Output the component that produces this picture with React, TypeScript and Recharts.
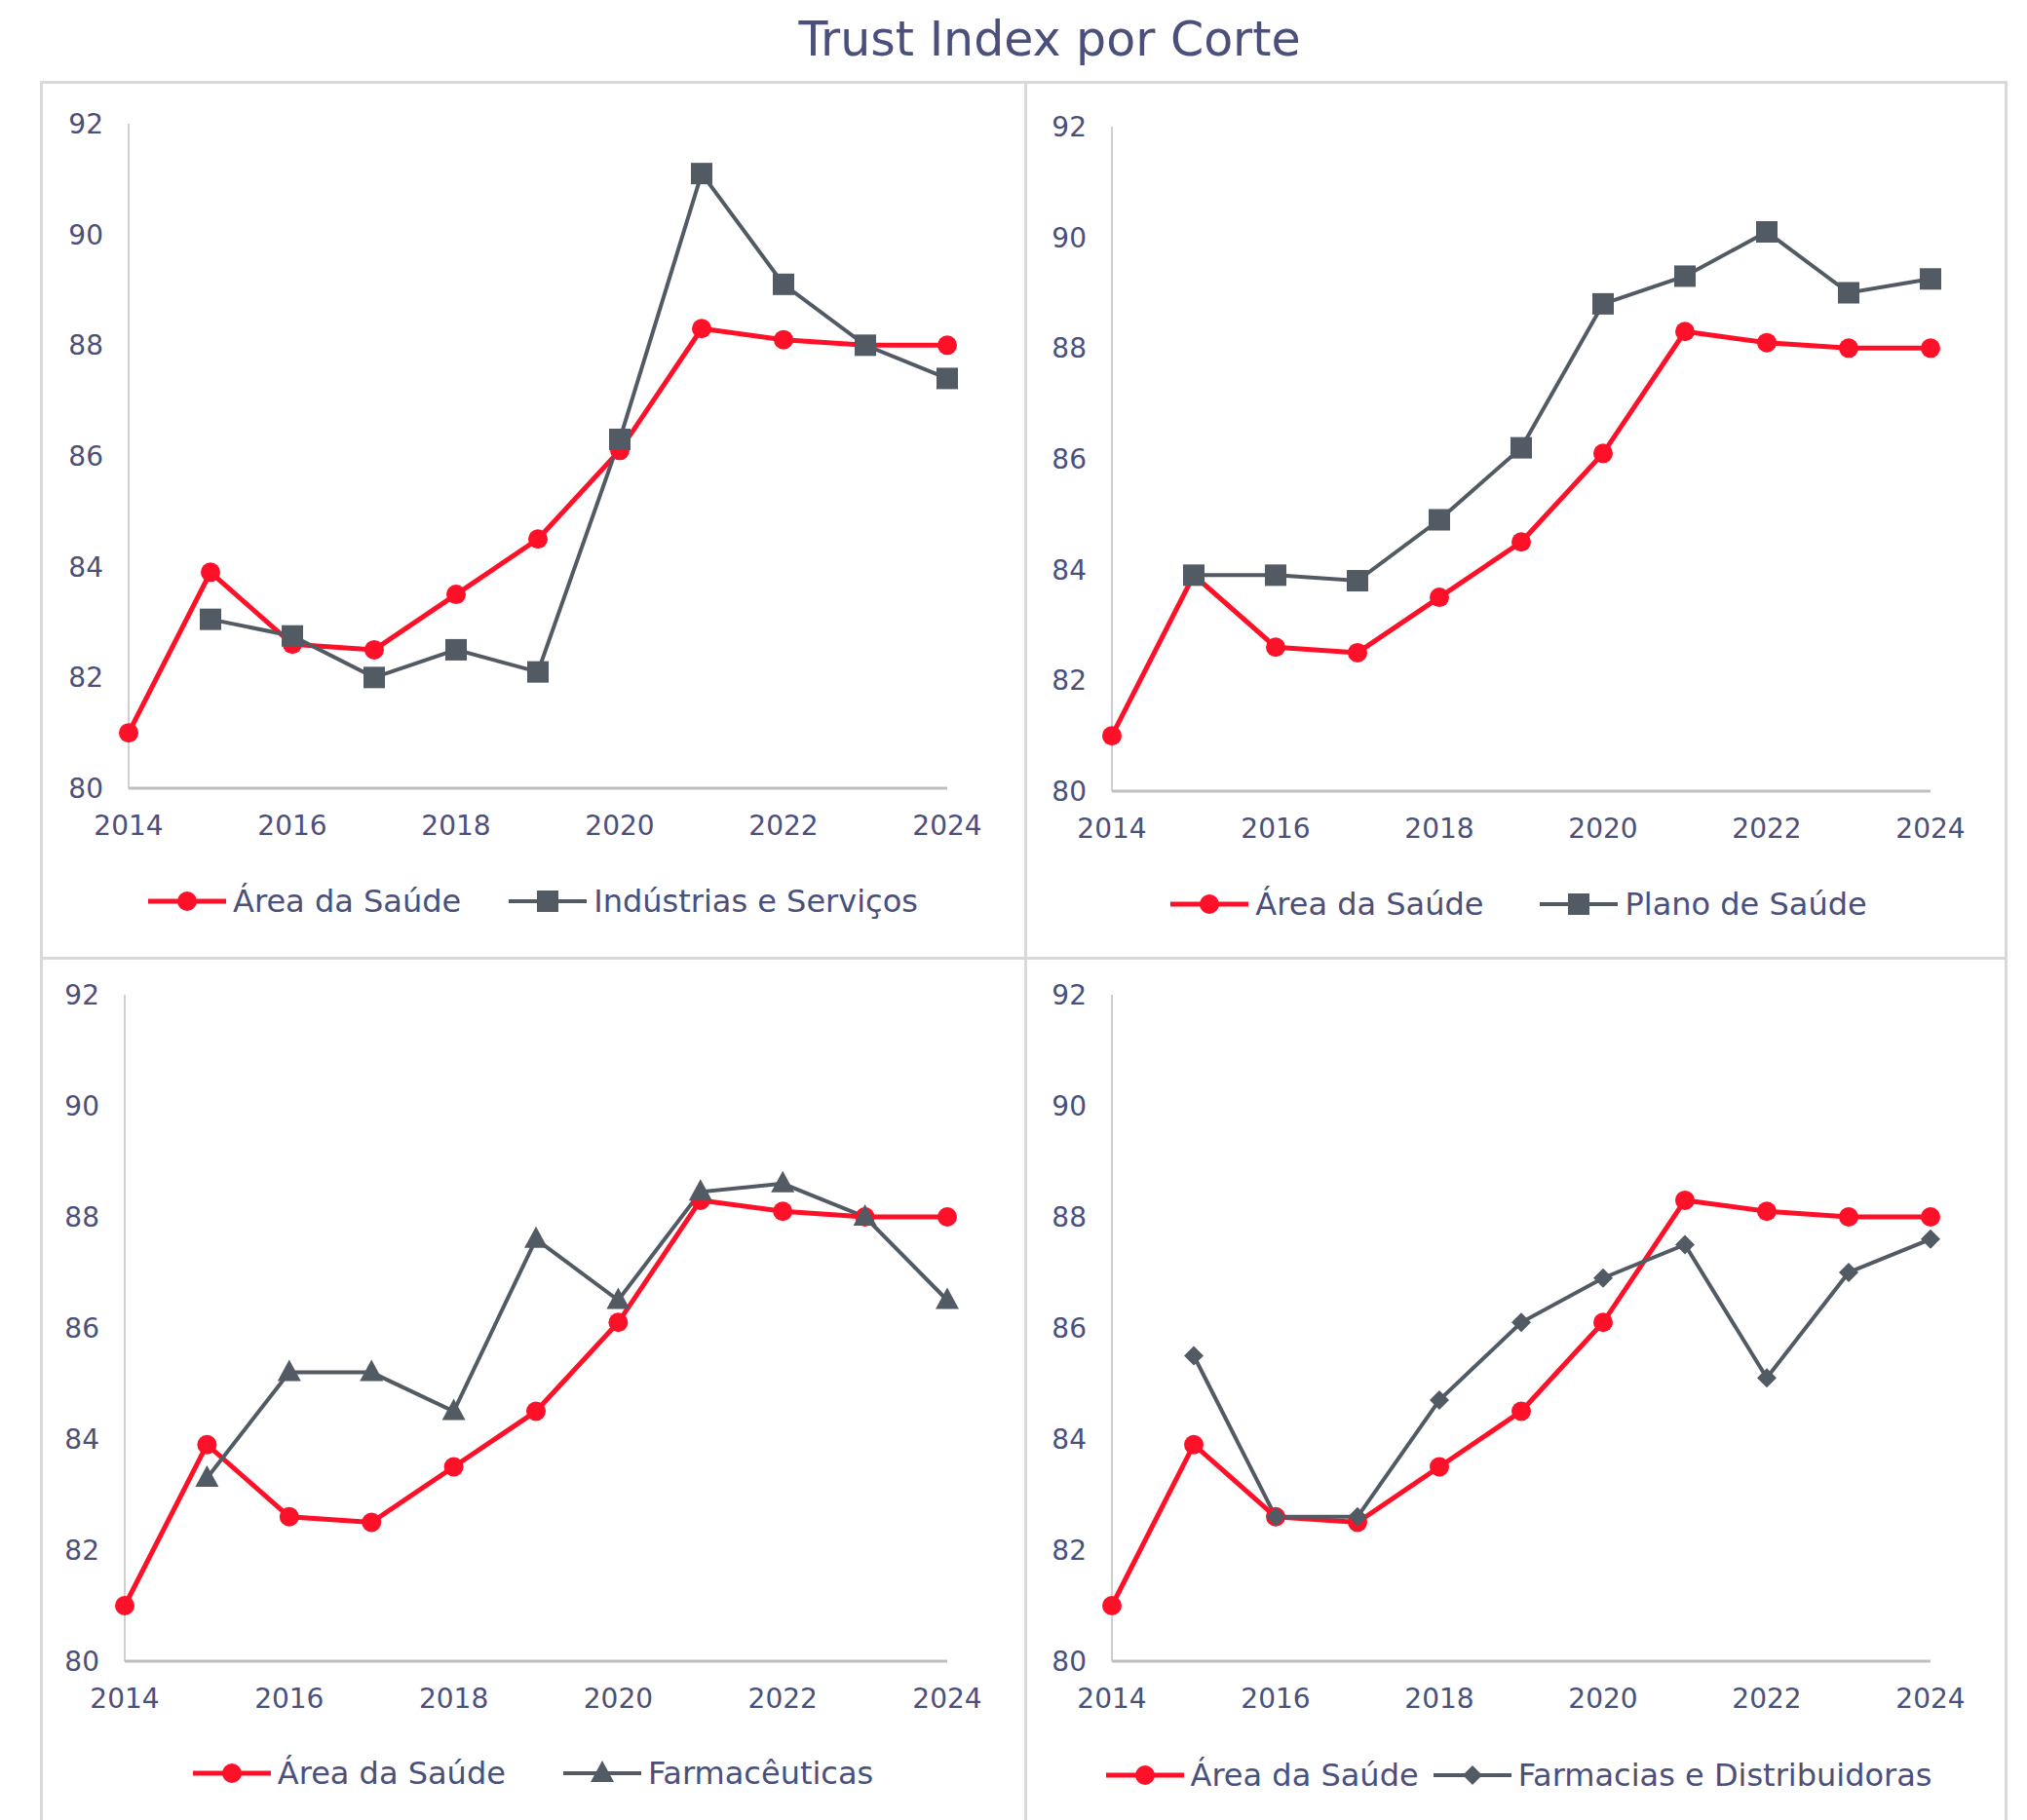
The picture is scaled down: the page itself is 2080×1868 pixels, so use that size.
import { LineChart, Line, XAxis, YAxis, Legend } from 'recharts';

const YEARS = [2014, 2015, 2016, 2017, 2018, 2019, 2020, 2021, 2022, 2023, 2024];
const AREA_SAUDE = [81.0, 83.9, 82.6, 82.5, 83.5, 84.5, 86.1, 88.3, 88.1, 88.0, 88.0];
const INDUSTRIAS_SERVICOS = [null, 83.05, 82.75, 82.0, 82.5, 82.1, 86.3, 91.1, 89.1, 88.0, 87.4];
const PLANO_SAUDE = [null, 83.9, 83.9, 83.8, 84.9, 86.2, 88.8, 89.3, 90.1, 89.0, 89.25];
const FARMACEUTICAS = [null, 83.3, 85.2, 85.2, 84.5, 87.6, 86.5, 88.45, 88.6, 88.0, 86.5];
const FARMACIAS_DISTRIB = [null, 85.5, 82.6, 82.6, 84.7, 86.1, 86.9, 87.5, 85.1, 87.0, 87.6];

const X_TICKS = [2014, 2016, 2018, 2020, 2022, 2024];
const Y_TICKS = [80, 82, 84, 86, 88, 90, 92];

const RED = '#ff1029';
const GRAY = '#525a63';
const TEXT = '#4a5079';
const AXIS = '#bfbfbf';
const BORDER = '#d9d9d9';
const FONT = '"DejaVu Sans", sans-serif';

type Marker = 'circle' | 'square' | 'triangle' | 'diamond';

function markerShape(kind: Marker, cx: number, cy: number, color: string, key?: any) {
  if (kind === 'circle') return <circle key={key} cx={cx} cy={cy} r={10} fill={color} />;
  if (kind === 'square') return <rect key={key} x={cx - 11} y={cy - 11} width={22} height={22} fill={color} />;
  if (kind === 'triangle')
    return <polygon key={key} points={`${cx},${cy - 13} ${cx + 12},${cy + 9} ${cx - 12},${cy + 9}`} fill={color} />;
  return <polygon key={key} points={`${cx},${cy - 10} ${cx + 10},${cy} ${cx},${cy + 10} ${cx - 10},${cy}`} fill={color} />;
}

const makeDot = (kind: Marker, color: string) => (props: any) => {
  const { cx, cy, index, value } = props;
  if (cx == null || cy == null || value == null) return <g key={`d-${index}`} />;
  return markerShape(kind, cx, cy, color, `d-${index}`);
};

interface PanelProps {
  left: number;
  top: number;
  width: number;
  height: number;
  margin: { top: number; right: number; bottom: number; left: number };
  xAxisHeight: number;
  legendGap: number;
  legendShift: number;
  name: string;
  values: (number | null)[];
  marker: Marker;
}

function Panel({ left, top, width, height, margin, xAxisHeight, legendGap, legendShift, name, values, marker }: PanelProps) {
  const data = YEARS.map((year, i) => ({ year, area: AREA_SAUDE[i], other: values[i] }));
  const items = [
    { label: 'Área da Saúde', color: RED, kind: 'circle' as Marker, sw: 5 },
    { label: name, color: GRAY, kind: marker, sw: 4 },
  ];

  const renderLegend = () => (
    <div
      style={{
        display: 'flex',
        justifyContent: 'center',
        alignItems: 'center',
        height: 50,
        gap: legendGap,
        transform: `translateX(${legendShift}px)`,
        fontFamily: FONT,
        fontSize: 32,
        color: TEXT,
        whiteSpace: 'nowrap',
      }}
    >
      {items.map((it) => (
        <div key={it.label} style={{ display: 'flex', alignItems: 'center', gap: 7 }}>
          <svg width={80} height={30}>
            <line x1={0} y1={15} x2={80} y2={15} stroke={it.color} strokeWidth={it.sw} />
            {markerShape(it.kind, 40, 15, it.color)}
          </svg>
          <span>{it.label}</span>
        </div>
      ))}
    </div>
  );

  return (
    <div style={{ position: 'absolute', left, top, width, height }}>
      <LineChart width={width} height={height} data={data} margin={margin}>
        <XAxis
          dataKey="year"
          type="number"
          domain={[2014, 2024]}
          ticks={X_TICKS}
          height={xAxisHeight}
          tickLine={false}
          tickSize={0}
          tickMargin={28}
          axisLine={{ stroke: AXIS, strokeWidth: 3 }}
          tick={{ fill: TEXT, fontSize: 28, fontFamily: FONT }}
          interval={0}
        />
        <YAxis
          domain={[80, 92]}
          ticks={Y_TICKS}
          width={60}
          tickLine={false}
          tickSize={0}
          tickMargin={26}
          axisLine={{ stroke: AXIS, strokeWidth: 1.5 }}
          tick={{ fill: TEXT, fontSize: 28, fontFamily: FONT }}
          interval={0}
        />
        <Legend
          verticalAlign="bottom"
          height={50}
          content={renderLegend}
          wrapperStyle={{ left: 0, width }}
        />
        <Line
          dataKey="area"
          name="Área da Saúde"
          stroke={RED}
          strokeWidth={5}
          dot={makeDot('circle', RED)}
          activeDot={false}
          isAnimationActive={false}
        />
        <Line
          dataKey="other"
          name={name}
          stroke={GRAY}
          strokeWidth={4}
          dot={makeDot(marker, GRAY)}
          activeDot={false}
          connectNulls={false}
          isAnimationActive={false}
        />
      </LineChart>
    </div>
  );
}

export default function App() {
  return (
    <div style={{ position: 'absolute', left: 0, top: 0, width: 2080, height: 1868, background: '#fff', overflow: 'hidden' }}>
      <div
        style={{
          position: 'absolute',
          left: 577,
          top: 16,
          width: 1000,
          textAlign: 'center',
          fontFamily: FONT,
          fontSize: 49,
          lineHeight: '49px',
          color: TEXT,
        }}
      >
        Trust Index por Corte
      </div>

      {/* panel frame */}
      <div style={{ position: 'absolute', left: 41, top: 83, width: 2013, height: 1820, border: `3px solid ${BORDER}` }} />
      <div style={{ position: 'absolute', left: 1051, top: 83, width: 3, height: 1800, background: BORDER }} />
      <div style={{ position: 'absolute', left: 41, top: 982, width: 2016, height: 3, background: BORDER }} />

      <Panel
        left={42}
        top={83}
        width={1010}
        height={900}
        margin={{ top: 44, right: 80, bottom: 33, left: 30 }}
        xAxisHeight={91}
        legendGap={49}
        legendShift={0}
        name="Indústrias e Serviços"
        values={INDUSTRIAS_SERVICOS}
        marker="square"
      />
      <Panel
        left={1052}
        top={83}
        width={1005}
        height={900}
        margin={{ top: 47, right: 76, bottom: 30, left: 29 }}
        xAxisHeight={91}
        legendGap={58}
        legendShift={4}
        name="Plano de Saúde"
        values={PLANO_SAUDE}
        marker="square"
      />
      <Panel
        left={42}
        top={983}
        width={1010}
        height={885}
        margin={{ top: 38, right: 80, bottom: 23, left: 26 }}
        xAxisHeight={90}
        legendGap={59}
        legendShift={0}
        name="Farmacêuticas"
        values={FARMACEUTICAS}
        marker="triangle"
      />
      <Panel
        left={1052}
        top={983}
        width={1005}
        height={885}
        margin={{ top: 38, right: 76, bottom: 21, left: 29 }}
        xAxisHeight={92}
        legendGap={15}
        legendShift={4}
        name="Farmacias e Distribuidoras"
        values={FARMACIAS_DISTRIB}
        marker="diamond"
      />
    </div>
  );
}
